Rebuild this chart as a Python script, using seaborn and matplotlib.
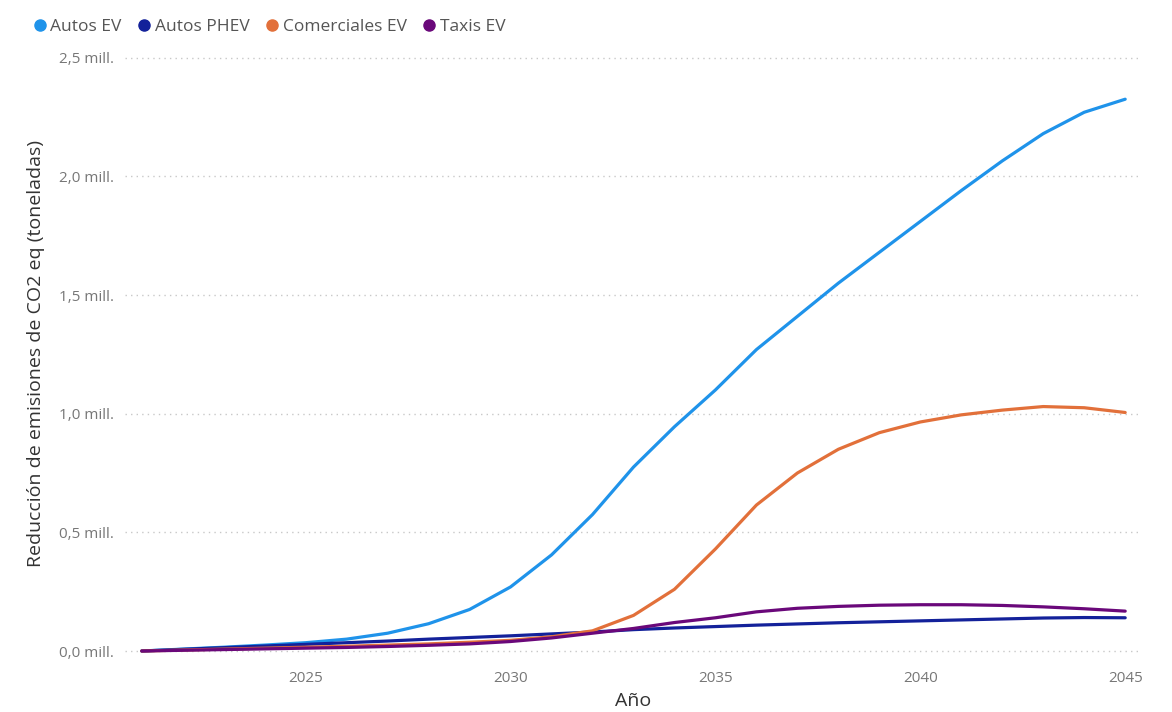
import numpy as np
import pandas as pd
import seaborn as sns
import matplotlib.pyplot as plt
from matplotlib.lines import Line2D
from matplotlib.ticker import FuncFormatter

# -----------------------------------------------------
# DATOS (millones de toneladas CO2 eq)
# -----------------------------------------------------
anios = list(range(2021, 2046))

autos_ev = [0.0, 0.008, 0.016, 0.025, 0.035, 0.05, 0.075, 0.115, 0.175, 0.27,
            0.405, 0.575, 0.775, 0.945, 1.10, 1.27, 1.41, 1.55, 1.68, 1.81,
            1.94, 2.065, 2.18, 2.27, 2.325]
autos_phev = [0.0, 0.007, 0.014, 0.021, 0.028, 0.035, 0.042, 0.05, 0.057, 0.064,
              0.072, 0.08, 0.09, 0.097, 0.103, 0.109, 0.114, 0.119, 0.123, 0.127,
              0.131, 0.135, 0.139, 0.141, 0.14]
comerciales_ev = [0.0, 0.004, 0.008, 0.012, 0.016, 0.02, 0.025, 0.03, 0.037, 0.045,
                  0.06, 0.085, 0.15, 0.26, 0.43, 0.615, 0.75, 0.85, 0.92, 0.965,
                  0.995, 1.015, 1.03, 1.025, 1.005]
taxis_ev = [0.0, 0.003, 0.006, 0.009, 0.012, 0.015, 0.019, 0.024, 0.03, 0.04,
            0.055, 0.075, 0.095, 0.12, 0.14, 0.165, 0.18, 0.188, 0.193, 0.195,
            0.195, 0.192, 0.186, 0.178, 0.168]

series = ["Autos EV", "Autos PHEV", "Comerciales EV", "Taxis EV"]
colores = ["#1f93ea", "#13219a", "#e2703a", "#6a087a"]

df = pd.DataFrame({
    "Año": anios * 4,
    "valor": autos_ev + autos_phev + comerciales_ev + taxis_ev,
    "serie": [s for s in series for _ in anios],
})

# -----------------------------------------------------
# GRAFICO
# -----------------------------------------------------
sns.set_style("white")
plt.rcParams["font.family"] = ["Open Sans", "DejaVu Sans"]

fig = plt.figure(figsize=(11.72, 7.12), dpi=100)
ax = fig.add_axes([0.107, 0.073, 0.866, 0.86])

sns.lineplot(data=df, x="Año", y="valor", hue="serie", palette=colores,
             linewidth=2.3, ax=ax, legend=False)

ax.set_xlim(2020.6, 2045.37)
ax.set_ylim(-0.038, 2.542)
ax.set_xticks([2025, 2030, 2035, 2040, 2045])
ax.set_yticks([0, 0.5, 1.0, 1.5, 2.0, 2.5])
ax.yaxis.set_major_formatter(FuncFormatter(lambda v, p: f"{v:.1f}".replace(".", ",") + " mill."))
ax.tick_params(axis="both", colors="#777777", labelsize=11, length=0, pad=8)
ax.grid(axis="y", linestyle=(0, (1, 3)), color="#c8c8c8", linewidth=1)
sns.despine(ax=ax, left=True, bottom=True)

ax.set_xlabel("Año", fontsize=14, color="#333333", labelpad=4)
ax.set_ylabel("Reducción de emisiones de CO2 eq (toneladas)", fontsize=14,
              color="#333333", labelpad=10)

handles = [Line2D([], [], marker="o", linestyle="", markersize=8, color=c) for c in colores]
fig.legend(handles, series, loc="upper left", bbox_to_anchor=(0.006, 0.995), ncol=4,
           frameon=False, fontsize=12.5, handletextpad=-0.4, columnspacing=0.3,
           labelcolor="#555555")

fig.savefig("out.png", dpi=100)
